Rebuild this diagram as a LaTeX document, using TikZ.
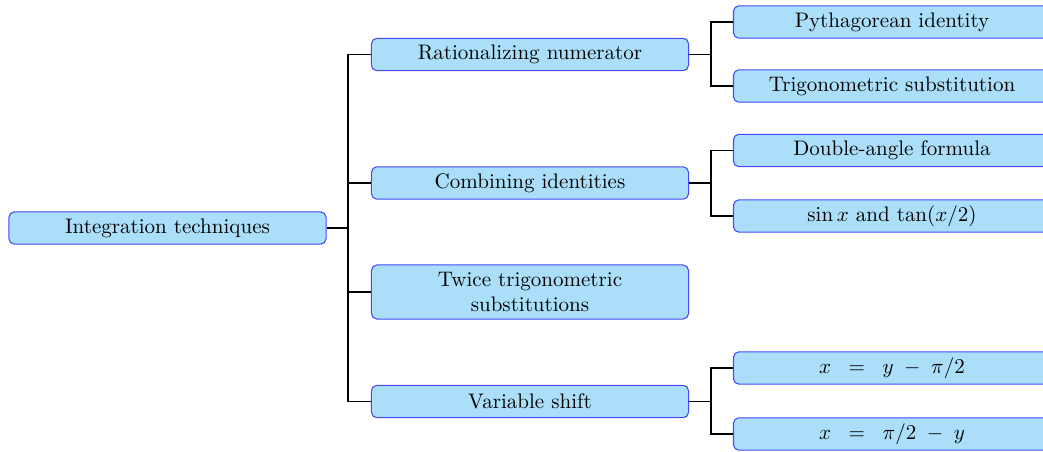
\documentclass[tikz,border=0pt]{standalone}
\usetikzlibrary{positioning}
\definecolor{boxfill}{RGB}{171,223,249}
\definecolor{boxdraw}{RGB}{70,70,250}
\begin{document}
\begin{tikzpicture}[x=0.4753pt,y=-0.4753pt,
  tbox/.style={draw=boxdraw,fill=boxfill,rounded corners=2.6pt,line width=0.5pt,
    minimum width=150.7pt,minimum height=15.4pt,inner sep=2.5pt,align=center,
    font=\fontsize{10}{12}\selectfont},
  conn/.style={draw=black,line width=0.8pt}]
\clip (0,0) rectangle (1043,451);
\node[tbox] (root) at (167.5,228) {Integration techniques};
\node[tbox] (r1) at (530,54.5) {Rationalizing numerator};
\node[tbox] (r2) at (530,183) {Combining identities};
\node[tbox,minimum height=25.7pt] (r3) at (530,292) {Twice trigonometric\\substitutions};
\node[tbox] (r4) at (530,401.5) {Variable shift};
\node[tbox] (p1) at (892,22) {Pythagorean identity};
\node[tbox] (p2) at (892,86) {Trigonometric substitution};
\node[tbox] (c1) at (892,150.5) {Double-angle formula};
\node[tbox] (c2) at (892,216) {$\sin x$ and $\tan(x/2)$};
\node[tbox] (v1) at (892,368) {$x\;\;=\;\;y\;-\;\pi/2$};
\node[tbox] (v2) at (892,434) {$x\;\;=\;\;\pi/2\;-\;y$};
\coordinate (t0) at (348,228);
\coordinate (t1) at (711,54.5);
\coordinate (t2) at (711,183);
\coordinate (t4) at (711,401.5);
\draw[conn] (root.east) -- (t0);
\draw[conn] (r1.west) -| (t0);
\draw[conn] (r2.west) -| (t0);
\draw[conn] (r3.west) -| (t0);
\draw[conn] (r4.west) -| (t0);
\draw[conn] (r1.east) -- (t1);
\draw[conn] (p1.west) -| (t1);
\draw[conn] (p2.west) -| (t1);
\draw[conn] (r2.east) -- (t2);
\draw[conn] (c1.west) -| (t2);
\draw[conn] (c2.west) -| (t2);
\draw[conn] (r4.east) -- (t4);
\draw[conn] (v1.west) -| (t4);
\draw[conn] (v2.west) -| (t4);
\end{tikzpicture}
\end{document}
